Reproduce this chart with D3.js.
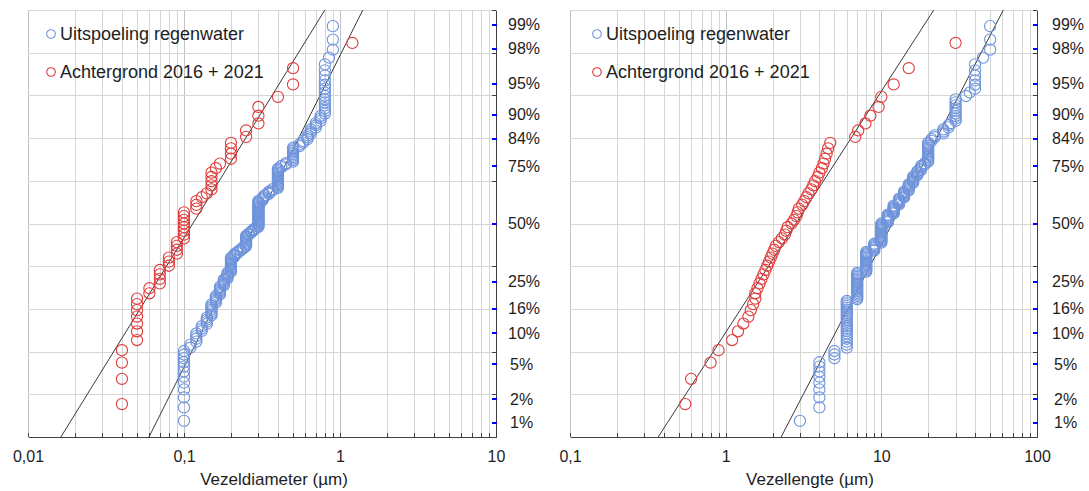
<!DOCTYPE html>
<html>
<head>
<meta charset="utf-8">
<script src="https://cdn.jsdelivr.net/npm/d3@7"></script>
<style>
body { margin: 0; background: #fff; }
svg { display: block; font-family: "Liberation Sans", Arial, sans-serif; }
.grid line { stroke: #d6d6d6; shape-rendering: crispEdges; }
.grid line.decade { stroke: #c2c2c2; }
.axis path, .axis line { stroke: #404040; shape-rendering: crispEdges; }
.axis text { fill: #1e1e1e; font-size: 16px; }
.pct line { stroke: #0000ff; stroke-width: 2; }
.pct path { stroke: none; }
.fit { fill: none; stroke: #3a3a3a; stroke-width: 1; }
.dot { fill: none; stroke-width: 1.1; }
</style>
</head>
<body>
<script>
// Cumulative percentages on the right axis
var pctTicks = [1, 2, 5, 10, 16, 25, 50, 75, 84, 90, 95, 98, 99];

// Vezeldiameter (µm), sorted measurements as value + count
var diamBlueValues = [0.1, 0.11, 0.12, 0.13, 0.14, 0.15, 0.16, 0.17, 0.18, 0.19, 0.2, 0.21, 0.22, 0.23, 0.24, 0.25, 0.26, 0.27, 0.28, 0.29,
                      0.3, 0.32, 0.33, 0.35, 0.37, 0.4, 0.42, 0.45, 0.5, 0.55, 0.58, 0.62, 0.65, 0.7, 0.75, 0.8, 0.85, 0.9];
var diamBlueCounts = [13, 2, 4, 3, 4, 7, 5, 6, 5, 5, 12, 3, 2, 2, 2, 10, 2, 2, 2, 1,
                      24, 3, 2, 3, 2, 16, 2, 2, 10, 2, 2, 3, 3, 3, 3, 14, 1, 4];
var diamRedValues = [0.04, 0.05, 0.06, 0.07, 0.08, 0.09, 0.1, 0.12, 0.13, 0.14, 0.15, 0.16, 0.17, 0.2, 0.25, 0.3, 0.4, 0.5, 1.2];
var diamRedCounts = [4, 7, 2, 4, 3, 4, 8, 3, 1, 1, 5, 1, 1, 4, 2, 3, 1, 2, 1];

// Vezellengte (µm)
var lenBlueValues = [3, 4, 5, 6, 7, 8, 9, 10, 11, 12, 13, 14, 15, 16, 17, 18, 19, 20, 21, 22, 25, 27, 28, 30, 35, 37, 40, 45, 50];
var lenBlueCounts = [2, 8, 3, 22, 19, 17, 7, 18, 8, 8, 6, 6, 6, 6, 4, 4, 2, 13, 2, 2, 3, 2, 1, 9, 1, 1, 6, 1, 4];
var lenRedValues = [0.55, 0.6, 0.8, 0.9, 1.1, 1.2, 1.3, 1.4, 1.45, 1.5, 1.55, 1.55, 1.6, 1.65, 1.7, 1.75, 1.8, 1.85, 1.9, 1.95,
                    2.0, 2.05, 2.1, 2.2, 2.3, 2.4, 2.45, 2.5, 2.65, 2.75, 2.85, 2.9, 2.95, 3.1, 3.2, 3.3, 3.4, 3.55, 3.65, 3.75,
                    3.9, 4.0, 4.15, 4.25, 4.35, 4.45, 4.55, 4.7, 6.8, 7.1, 7.9, 8.5, 9.6, 10, 12, 15, 30];

// Log-normal fit lines: [median, geometric standard deviation]
var fitDiamBlue = [0.289, 1.88];
var fitDiamRed = [0.114, 2.18];
var fitLenBlue = [11.75, 1.93];
var fitLenRed = [2.83, 2.26];

var seriesNames = ["Uitspoeling regenwater", "Achtergrond 2016 + 2021"];
var seriesColors = ["#6f94dc", "#e03c3c"];

// inverse normal CDF (Acklam)
function probit(p) {
  var a = [-39.69683028665376, 220.9460984245205, -275.9285104469687, 138.3577518672690, -30.66479806614716, 2.506628277459239],
      b = [-54.47609879822406, 161.5858368580409, -155.6989798598866, 66.80131188771972, -13.28068155288572],
      c = [-0.007784894002430293, -0.3223964580411365, -2.400758277161838, -2.549732539343734, 4.374664141464968, 2.938163982698783],
      d = [0.007784695709041462, 0.3224671290700398, 2.445134137142996, 3.754408661907416],
      q, r;
  if (p < 0.02425) {
    q = Math.sqrt(-2 * Math.log(p));
    return (((((c[0]*q+c[1])*q+c[2])*q+c[3])*q+c[4])*q+c[5]) / ((((d[0]*q+d[1])*q+d[2])*q+d[3])*q+1);
  }
  if (p > 1 - 0.02425) {
    q = Math.sqrt(-2 * Math.log(1 - p));
    return -(((((c[0]*q+c[1])*q+c[2])*q+c[3])*q+c[4])*q+c[5]) / ((((d[0]*q+d[1])*q+d[2])*q+d[3])*q+1);
  }
  q = p - 0.5; r = q * q;
  return (((((a[0]*r+a[1])*r+a[2])*r+a[3])*r+a[4])*r+a[5])*q / (((((b[0]*r+b[1])*r+b[2])*r+b[3])*r+b[4])*r+1);
}

// sorted values -> points at plotting position i/(n+1)
function expand(values, counts) {
  var xs = [];
  values.forEach(function(v, i) {
    for (var k = 0; k < (counts ? counts[i] : 1); k++) xs.push(v);
  });
  return xs.map(function(v, i) { return {x: v, z: probit((i + 1) / (xs.length + 1))}; });
}

var nl = d3.formatLocale({decimal: ",", thousands: ".", grouping: [3], currency: ["€", ""]});
var fmt = nl.format("~g");

var svg = d3.select("body").append("svg")
    .attr("width", 1089)
    .attr("height", 491);

var y = d3.scaleLinear().domain([-2.5, 2.5]).range([437, 10]);

function panel(cfg) {
  var x = cfg.x,
      x0 = x.range()[0],
      x1 = x.range()[1],
      g = svg.append("g");

  g.append("clipPath").attr("id", cfg.id)
    .append("rect")
      .attr("x", x0).attr("y", 10)
      .attr("width", x1 - x0).attr("height", 427);

  var grid = g.append("g").attr("class", "grid");
  grid.selectAll(".v")
      .data(x.ticks())
    .enter().append("line")
      .attr("class", function(d) { return Math.abs(Math.log10(d) % 1) < 1e-9 ? "decade" : null; })
      .attr("x1", function(d) { return Math.round(x(d)) + 0.5; })
      .attr("x2", function(d) { return Math.round(x(d)) + 0.5; })
      .attr("y1", 10).attr("y2", 437);
  grid.selectAll(".h")
      .data(y.ticks(10))
    .enter().append("line")
      .attr("x1", x0).attr("x2", x1)
      .attr("y1", function(d) { return Math.round(y(d)) + 0.5; })
      .attr("y2", function(d) { return Math.round(y(d)) + 0.5; });

  // bottom axis: inward minor ticks, decade labels
  g.append("g")
      .attr("class", "axis")
      .attr("transform", "translate(0,437)")
      .call(d3.axisBottom(x).tickValues(x.ticks()).tickSize(-4).tickSizeOuter(0).tickFormat(""));
  g.append("g")
      .attr("class", "axis")
      .attr("transform", "translate(0,437)")
      .call(d3.axisBottom(x).tickValues(x.ticks().filter(function(d) { return Math.abs(Math.log10(d) % 1) < 1e-9; }))
        .tickSize(0).tickPadding(14).tickFormat(fmt))
      .call(function(s) { s.select(".domain").remove(); });

  // right axis: inward grid ticks + blue percentage ticks
  g.append("g")
      .attr("class", "axis")
      .attr("transform", "translate(" + x1 + ",0)")
      .call(d3.axisRight(y).tickValues(y.ticks(10)).tickSize(-4).tickSizeOuter(0).tickFormat(""));
  g.append("g")
      .attr("class", "axis pct")
      .attr("transform", "translate(" + (x1 + 1) + ",0)")
      .call(d3.axisRight(y).tickValues(pctTicks.map(function(p) { return probit(p / 100); }))
        .tickSize(-5).tickPadding(cfg.pad).tickFormat(function(d, i) { return pctTicks[i] + "%"; }))
    .selectAll("text")
      .attr("dx", function(d, i) { return pctTicks[i] < 10 ? 2 : 0; });

  var plot = g.append("g").attr("clip-path", "url(#" + cfg.id + ")");

  cfg.fits.forEach(function(f) {
    plot.append("path")
        .attr("class", "fit")
        .attr("d", d3.line()
          .x(function(z) { return x(f[0] * Math.pow(f[1], z)); })
          .y(function(z) { return y(z); })([-2.6, 2.6]));
  });

  // points beyond the probability range are left out, as in the original
  cfg.series.forEach(function(s, k) {
    g.selectAll(".s" + k)
        .data(s.filter(function(d) { return d.z >= -2.5 && d.z <= 2.5; }))
      .enter().append("circle")
        .attr("class", "dot")
        .attr("cx", function(d) { return x(d.x); })
        .attr("cy", function(d) { return y(d.z); })
        .attr("r", 5.6)
        .style("stroke", seriesColors[k]);
  });

  var legend = g.selectAll(".legend")
      .data(seriesNames)
    .enter().append("g")
      .attr("transform", function(d, i) { return "translate(" + (x0 + cfg.legendDx) + "," + (34 + i * 38) + ")"; });
  legend.append("circle")
      .attr("r", 4.3)
      .style("fill", "none")
      .style("stroke-width", 1.1)
      .style("stroke", function(d, i) { return seriesColors[i]; });
  legend.append("text")
      .attr("x", 9)
      .attr("dy", ".35em")
      .style("font-size", "18px")
      .style("fill", "#1e1e1e")
      .text(function(d) { return d; });

  g.append("text")
      .attr("x", cfg.titleX)
      .attr("y", 485)
      .style("text-anchor", "middle")
      .style("font-size", "17px")
      .style("fill", "#1e1e1e")
      .text(cfg.title);
}

panel({
  id: "clip1",
  x: d3.scaleLog().domain([0.01, 10]).range([28, 496]),
  series: [expand(diamBlueValues, diamBlueCounts), expand(diamRedValues, diamRedCounts)],
  fits: [fitDiamBlue, fitDiamRed],
  title: "Vezeldiameter  (µm)",
  titleX: 274,
  legendDx: 23,
  pad: 11
});

panel({
  id: "clip2",
  x: d3.scaleLog().domain([0.1, 100]).range([570, 1037]),
  series: [expand(lenBlueValues, lenBlueCounts), expand(lenRedValues)],
  fits: [fitLenBlue, fitLenRed],
  title: "Vezellengte  (µm)",
  titleX: 810,
  legendDx: 27,
  pad: 14
});
</script>
</body>
</html>
